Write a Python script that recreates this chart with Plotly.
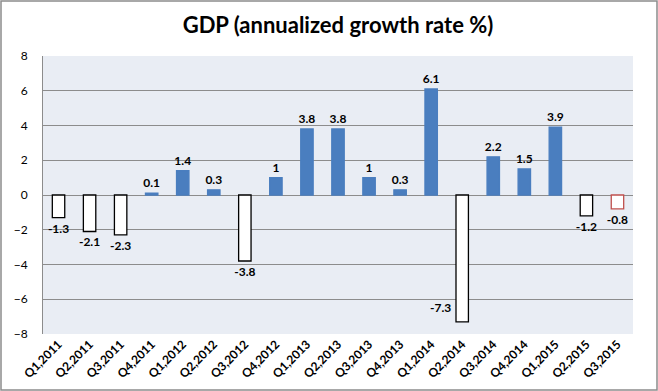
import plotly.graph_objects as go

quarters = ["Q1,2011", "Q2,2011", "Q3,2011", "Q4,2011", "Q1,2012", "Q2,2012", "Q3,2012",
            "Q4,2012", "Q1,2013", "Q2,2013", "Q3,2013", "Q4,2013", "Q1,2014", "Q2,2014",
            "Q3,2014", "Q4,2014", "Q1,2015", "Q2,2015", "Q3,2015"]
growth = [-1.3, -2.1, -2.3, 0.1, 1.4, 0.3, -3.8, 1, 3.8, 3.8, 1, 0.3, 6.1, -7.3,
          2.2, 1.5, 3.9, -1.2, -0.8]

BLUE = "#4A7EBF"
fill = [BLUE if v > 0 else "white" for v in growth]
edge = [BLUE if v > 0 else "black" for v in growth]
edge[-1] = "#C0504D"
labels = [("%g" % v) for v in growth]
bar_text = [t if v > -7 else "" for t, v in zip(labels, growth)]

W, H = 658, 391
ml, mr, mt, mb = 43, 25, 56, 57
pw, ph = W - ml - mr, H - mt - mb

FONT = "Lato, Open Sans, sans-serif"

fig = go.Figure(go.Bar(
    x=quarters, y=growth,
    marker=dict(color=fill, line=dict(color=edge, width=1.3)),
    text=bar_text, textposition="outside", cliponaxis=False, constraintext="none",
    textfont=dict(family=FONT, size=12, color="black", weight="bold"),
    width=0.4,
))

for q, v, t in zip(quarters, growth, labels):
    if v <= -7:
        fig.add_annotation(x=q, y=v, text="<b>%s</b>" % t, showarrow=False,
                           xanchor="right", yanchor="middle", xshift=-9, yshift=14,
                           font=dict(family=FONT, size=12, color="black"))

fig.add_shape(type="rect", xref="paper", yref="paper",
              x0=-(ml - 1) / pw, x1=1 + (mr - 1) / pw,
              y0=-(mb - 1) / ph, y1=1 + (mt - 1) / ph,
              line=dict(color="#8C8C8C", width=1.5), layer="below")

fig.update_layout(
    width=W, height=H,
    margin=dict(l=ml, r=mr, t=mt, b=mb, autoexpand=False),
    paper_bgcolor="white", plot_bgcolor="#E9EDF4",
    title=dict(text="<b>GDP (annualized growth rate %)</b>", x=0.5, xref="paper", y=0.935, yanchor="middle",
               font=dict(family=FONT, size=22, color="black")),
    showlegend=False,
    xaxis=dict(tickangle=-45, showgrid=False, ticks="", showline=False, automargin=False,
               tickfont=dict(family=FONT, size=12, color="black", weight="bold")),
    yaxis=dict(range=[-8, 8], dtick=2, showgrid=True, gridcolor="#8C8C8C", gridwidth=1,
               zeroline=True, zerolinecolor="#8C8C8C", zerolinewidth=1, automargin=False,
               showline=True, linecolor="#8C8C8C", mirror=False, ticks="", ticklabelstandoff=12,
               tickfont=dict(family=FONT, size=12, color="black")),
)

fig.write_html("out.html", config={"displayModeBar": False},
               post_script="document.body.style.margin='0';document.body.style.overflow='hidden';")
